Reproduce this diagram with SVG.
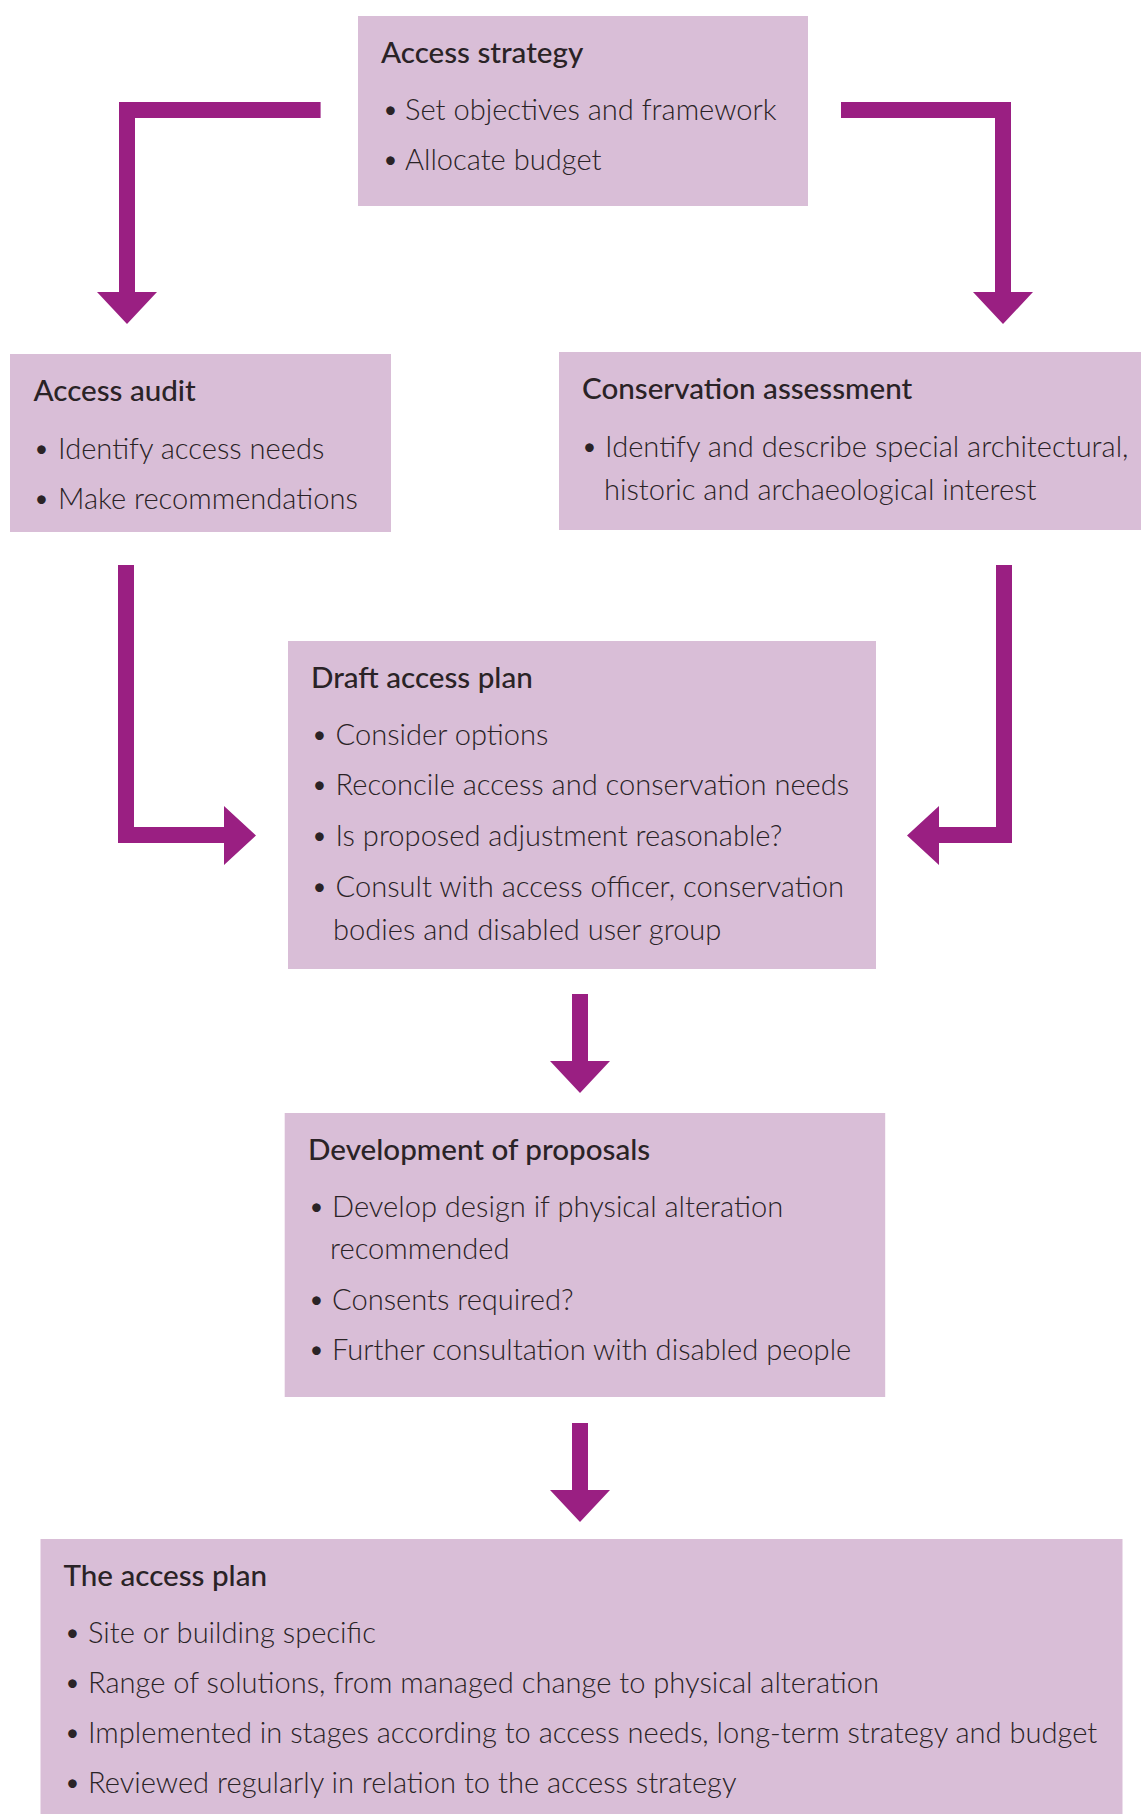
<svg xmlns="http://www.w3.org/2000/svg" width="1141" height="1814" viewBox="0 0 1141 1814">
<style>
.box{fill:#d9bed7}
.arrow{fill:#9a1f82}
text{font-family:Lato,"Open Sans","Liberation Sans",sans-serif;font-size:29.1px;fill:#2a2326}
.title{font-weight:500;font-size:29.6px}
.body{font-weight:300}
</style>
<rect width="1141" height="1814" fill="#ffffff"/>
<g id="connectors">
<polygon class="arrow" points="320.6,102 119,102 119,292 97,292 127,324 157,292 135,292 135,118 320.6,118"/>
<polygon class="arrow" points="841,102 1011,102 1011,292 1033,292 1003,324 973,292 995,292 995,118 841,118"/>
<polygon class="arrow" points="118,565 134,565 134,827 224,827 224,806 256,835.5 224,865 224,843 118,843"/>
<polygon class="arrow" points="996,565 1012,565 1012,843 939,843 939,865 907,835.5 939,806 939,827 996,827"/>
<polygon class="arrow" points="572,994 588,994 588,1061 610,1061 580,1093 550,1061 572,1061"/>
<polygon class="arrow" points="572,1423 588,1423 588,1490 610,1490 580,1522 550,1490 572,1490"/>
</g>
<g id="access-strategy">
<rect class="box" x="358" y="16" width="450" height="190"/>
<text class="title" x="381" y="63">Access strategy</text>
<text class="body" y="120"><tspan x="382">•</tspan><tspan x="405">Set objectives and framework</tspan></text>
<text class="body" y="170"><tspan x="382">•</tspan><tspan x="405">Allocate budget</tspan></text>
</g>
<g id="access-audit">
<rect class="box" x="10" y="354" width="381" height="178"/>
<text class="title" x="33.5" y="401">Access audit</text>
<text class="body" y="459"><tspan x="33">•</tspan><tspan x="58">Identify access needs</tspan></text>
<text class="body" y="509"><tspan x="33">•</tspan><tspan x="58">Make recommendations</tspan></text>
</g>
<g id="conservation-assessment">
<rect class="box" x="559" y="352" width="582" height="178"/>
<text class="title" x="582" y="399">Conservation assessment</text>
<text class="body" y="457"><tspan x="581">•</tspan><tspan x="605">Identify and describe special architectural,</tspan></text>
<text class="body" x="604" y="499.5">historic and archaeological interest</text>
</g>
<g id="draft-access-plan">
<rect class="box" x="288" y="641" width="588" height="328"/>
<text class="title" x="311" y="688">Draft access plan</text>
<text class="body" y="745"><tspan x="311">•</tspan><tspan x="335.5">Consider options</tspan></text>
<text class="body" y="795"><tspan x="311">•</tspan><tspan x="335.5">Reconcile access and conservation needs</tspan></text>
<text class="body" y="846"><tspan x="311">•</tspan><tspan x="335.5">Is proposed adjustment reasonable?</tspan></text>
<text class="body" y="897"><tspan x="311">•</tspan><tspan x="335.5">Consult with access officer, conservation</tspan></text>
<text class="body" x="333" y="940">bodies and disabled user group</text>
</g>
<g id="development-of-proposals">
<rect class="box" x="284.7" y="1113" width="600.5" height="284"/>
<text class="title" x="308" y="1160">Development of proposals</text>
<text class="body" y="1217"><tspan x="308">•</tspan><tspan x="332">Develop design if physical alteration</tspan></text>
<text class="body" x="330" y="1259">recommended</text>
<text class="body" y="1310"><tspan x="308">•</tspan><tspan x="332">Consents required?</tspan></text>
<text class="body" y="1360"><tspan x="308">•</tspan><tspan x="332">Further consultation with disabled people</tspan></text>
</g>
<g id="the-access-plan">
<rect class="box" x="40.5" y="1539" width="1082" height="275"/>
<text class="title" x="63.5" y="1586">The access plan</text>
<text class="body" y="1643"><tspan x="64">•</tspan><tspan x="88">Site or building specific</tspan></text>
<text class="body" y="1693"><tspan x="64">•</tspan><tspan x="88">Range of solutions, from managed change to physical alteration</tspan></text>
<text class="body" y="1743"><tspan x="64">•</tspan><tspan x="88">Implemented in stages according to access needs, long-term strategy and budget</tspan></text>
<text class="body" y="1793"><tspan x="64">•</tspan><tspan x="88">Reviewed regularly in relation to the access strategy</tspan></text>
</g>
</svg>
